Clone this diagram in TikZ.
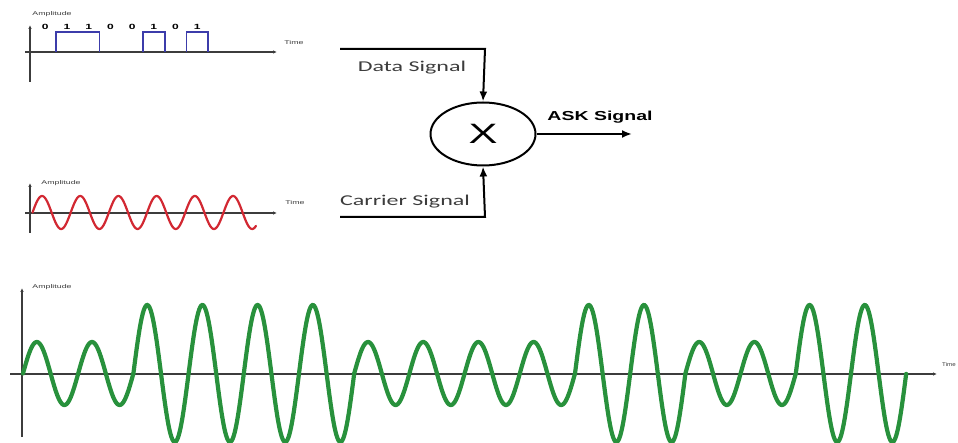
\documentclass[tikz,border=0pt]{standalone}
\usepackage{fontspec}
\setmainfont{Liberation Sans}
\newfontfamily\calib{Carlito}
\usetikzlibrary{arrows.meta,shapes.geometric}
\definecolor{axisgray}{RGB}{60,60,60}
\definecolor{datablue}{RGB}{60,60,170}
\definecolor{carrred}{RGB}{210,40,50}
\definecolor{askgreen}{RGB}{40,145,60}
\definecolor{labgray}{RGB}{60,60,60}
\tikzset{
  axis/.style={draw=axisgray,line width=1.4pt,-{Latex[length=4pt,width=3.5pt]}},
  tiny/.style={font=\fontsize{5.5}{6}\selectfont,text=labgray,xscale=1.6,inner sep=0pt},
  bit/.style={font=\fontsize{7.5}{8}\selectfont\bfseries,xscale=1.6,inner sep=0pt},
  siglabel/.style={font=\calib\fontsize{15}{17}\selectfont,text=labgray,xscale=1.6,inner sep=0pt},
  link/.style={line width=2pt,-{Latex[length=10pt,width=8pt]}},
}
\begin{document}
\begin{tikzpicture}[x=1pt,y=-1pt]
  \useasboundingbox (0,0) rectangle (958,443);
  % data signal
  \begin{scope}
    \draw[axis] (30,82) -- (30,25);
    \draw[axis] (25,52) -- (277,52);
    \node[tiny] (damp) at (52,14) {Amplitude};
    \node[tiny] (dtime) at (294,43) {Time};
    \foreach \b [count=\i from 0] in {0,1,1,0,0,1,0,1}
      \node[bit] (bit\i) at ({45.3+21.7*\i},27) {\b};
    \draw[datablue,line width=1.6pt] (56.2,52) -- (56.2,32) -- (99.6,32) -- (99.6,52);
    \draw[datablue,line width=1.6pt] (143,52) -- (143,32) -- (164.7,32) -- (164.7,52);
    \draw[datablue,line width=1.6pt] (186.4,52) -- (186.4,32) -- (208.1,32) -- (208.1,52);
  \end{scope}
  % carrier signal
  \begin{scope}
    \draw[axis] (30,233) -- (30,183);
    \draw[axis] (25,213) -- (277,213);
    \node[tiny] (camp) at (61,183) {Amplitude};
    \node[tiny] (ctime) at (295,203) {Time};
    \draw[carrred,line width=2.2pt,line cap=round]
      plot[domain=0:5.85,samples=240,smooth] ({32.5+38.2*\x},{212.5-16.5*sin(360*\x)});
  \end{scope}
  % modulator
  \node[ellipse,draw,line width=2pt,minimum width=105pt,minimum height=63pt,inner sep=0pt] (mix) at (483,134) {};
  \node[font=\fontsize{28}{29}\selectfont,xscale=1.55] (mult) at (mix) {X};
  \coordinate (din) at (340,49);
  \coordinate (dcorner) at (485,49);
  \coordinate (cin) at (340,217);
  \coordinate (ccorner) at (485,217);
  \coordinate (out) at (632,134);
  \draw[link] (din) -- (dcorner) -- (mix.north);
  \draw[link] (cin) -- (ccorner) -- (mix.south);
  \draw[link] (mix.east) -- (out);
  \node[siglabel] (dlab) at (412,68) {Data Signal};
  \node[siglabel] (clab) at (405,202) {Carrier Signal};
  \node[font=\fontsize{13}{14}\selectfont\bfseries,xscale=1.5,inner sep=0pt] (asklab) at (600,117) {ASK Signal};
  % ASK output
  \begin{scope}
    \draw[axis] (22,437) -- (22,288);
    \draw[axis] (10,374) -- (937,374);
    \node[tiny] (aamp) at (52,287) {Amplitude};
    \node[tiny,xscale=0.7,anchor=west] (atime) at (942,365) {Time};
    \foreach \b [count=\i from 0] in {0,1,1,0,0,1,0,1} {
      \pgfmathsetmacro{\amp}{\b==1 ? 68.5 : 31.5}
      \draw[askgreen,line width=4.2pt,line cap=round]
        plot[domain=0:2,samples=120,smooth] ({23+55.2*(\x+2*\i)},{373.5-\amp*sin(360*\x)});
    }
  \end{scope}
\end{tikzpicture}
\end{document}
